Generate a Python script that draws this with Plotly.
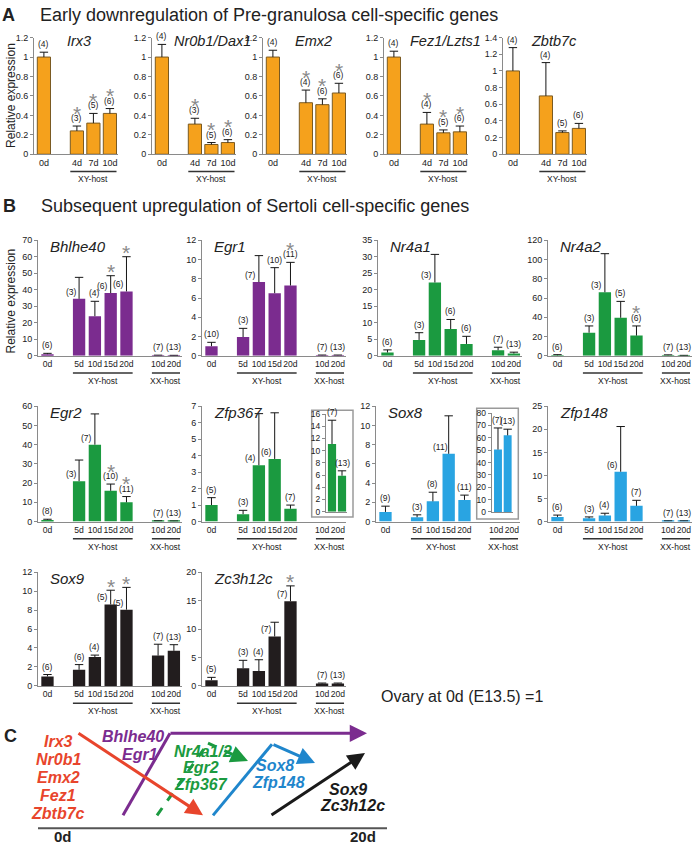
import plotly.graph_objects as go

W, H = 695, 849
FONT = "Liberation Sans, Arial, Helvetica, sans-serif"

# ---------------- data ----------------
a_days = ["0d", "4d", "7d", "10d"]
a_groups = [1, 3]
a_group_names = ["", "XY-host"]

irx3_mean = [1.00, 0.24, 0.32, 0.42]
irx3_sem = [0.05, 0.05, 0.10, 0.05]
irx3_n = [4, 3, 5, 6]
irx3_sig = [0, 1, 1, 1]

nr0b1_mean = [1.00, 0.31, 0.10, 0.12]
nr0b1_sem = [0.13, 0.06, 0.02, 0.03]
nr0b1_n = [4, 3, 5, 6]
nr0b1_sig = [0, 1, 1, 1]

emx2_mean = [1.00, 0.53, 0.51, 0.63]
emx2_sem = [0.07, 0.13, 0.06, 0.10]
emx2_n = [4, 4, 6, 6]
emx2_sig = [0, 1, 1, 1]

fez1_mean = [1.00, 0.31, 0.22, 0.23]
fez1_sem = [0.06, 0.12, 0.03, 0.06]
fez1_n = [4, 4, 5, 6]
fez1_sig = [0, 1, 1, 1]

zbtb7c_mean = [1.00, 0.70, 0.26, 0.31]
zbtb7c_sem = [0.28, 0.40, 0.02, 0.06]
zbtb7c_n = [4, 4, 5, 6]
zbtb7c_sig = [0, 0, 0, 0]

b_days = ["0d", "5d", "10d", "15d", "20d", "10d", "20d"]
b_groups = [1, 4, 2]
b_group_names = ["", "XY-host", "XX-host"]

bhlhe40_mean = [1.0, 34.5, 24.0, 38.0, 39.0, 0.3, 0.2]
bhlhe40_sem = [0.5, 13.0, 9.0, 10.5, 21.0, 0.1, 0.1]
bhlhe40_n = [6, 3, 4, 6, 6, 7, 13]
bhlhe40_sig = [0, 0, 0, 1, 1, 0, 0]

egr1_mean = [1.0, 1.95, 7.65, 6.5, 7.3, 0.05, 0.05]
egr1_sem = [0.4, 0.9, 2.75, 2.65, 2.4, 0.03, 0.03]
egr1_n = [10, 3, 7, 10, 11, 7, 13]
egr1_sig = [0, 0, 0, 0, 1, 0, 0]

nr4a1_mean = [1.0, 4.8, 22.2, 8.1, 3.6, 1.7, 0.7]
nr4a1_sem = [0.8, 2.2, 8.5, 2.9, 2.3, 0.9, 0.4]
nr4a1_n = [6, 3, 3, 6, 6, 7, 13]
nr4a1_sig = [0, 0, 0, 0, 0, 0, 0]

nr4a2_mean = [0.5, 24.0, 66.0, 39.5, 21.0, 0.5, 0.3]
nr4a2_sem = [0.7, 7.0, 40.0, 17.0, 10.0, 0.5, 0.2]
nr4a2_n = [6, 3, 3, 5, 6, 7, 13]
nr4a2_sig = [0, 0, 0, 0, 1, 0, 0]

egr2_mean = [0.8, 21.0, 40.0, 16.0, 10.0, 0.3, 0.2]
egr2_sem = [0.4, 11.0, 16.0, 3.5, 3.0, 0.1, 0.1]
egr2_n = [8, 3, 7, 10, 11, 7, 13]
egr2_sig = [0, 0, 0, 1, 1, 0, 0]

zfp367_mean = [1.0, 0.45, 3.42, 3.8, 0.78]
zfp367_sem = [0.45, 0.23, 3.13, 2.8, 0.22]
zfp367_n = [5, 3, 4, 6, 7]
zfp367_sig = [0, 0, 0, 0, 0]
zfp367_xx_mean = [11.1, 5.9]
zfp367_xx_sem = [3.9, 0.8]
zfp367_xx_n = [7, 13]

sox8_mean = [1.0, 0.45, 2.1, 7.05, 2.25]
sox8_sem = [0.6, 0.25, 0.95, 3.95, 0.5]
sox8_n = [9, 3, 8, 11, 11]
sox8_sig = [0, 0, 0, 0, 0]
sox8_xx_mean = [50.5, 62.0]
sox8_xx_sem = [17.5, 5.0]
sox8_xx_n = [7, 13]

zfp148_mean = [1.0, 0.7, 1.3, 10.8, 3.4, 0.1, 0.1]
zfp148_sem = [0.4, 0.3, 0.5, 9.8, 1.2, 0.05, 0.05]
zfp148_n = [6, 3, 4, 6, 7, 7, 13]
zfp148_sig = [0, 0, 0, 0, 0, 0, 0]

sox9_mean = [1.0, 1.7, 3.05, 8.6, 8.05, 3.2, 3.7]
sox9_sem = [0.2, 0.55, 0.2, 1.5, 2.35, 1.2, 0.65]
sox9_n = [6, 6, 4, 5, 5, 7, 13]
sox9_sig = [0, 0, 0, 1, 1, 0, 0]

zc3h12c_mean = [1.0, 3.1, 2.6, 8.7, 14.9, 0.4, 0.4]
zc3h12c_sem = [0.5, 1.4, 2.0, 2.5, 2.7, 0.1, 0.1]
zc3h12c_n = [5, 3, 4, 7, 7, 7, 13]
zc3h12c_sig = [0, 0, 0, 0, 1, 0, 0]

# ---------------- styles ----------------
ORANGE = "#F5A11C"
ORANGE_EDGE = "#7A5A22"
PURPLE = "#7B2C8F"
GREEN = "#1B9A40"
BLUE = "#29A4E2"
BLACK = "#221D1E"
AX = "#8a8a8a"
TXT = "#222222"
STAR = "#8a8a8a"
ERR = "#151515"

fig = go.Figure()
annotations = []
shapes = []
counter = [0]


def px(x):
    return x / W


def py(y):
    return 1 - y / H


def positions(groups):
    pos, p = [], 0
    for g in groups:
        for _ in range(g):
            pos.append(p)
            p += 1
        p += 1
    return pos


def new_axes(left, right, top, bottom, xrange, ymax, dtick, tickvals, ticktext,
             show_xlabels=True, yfs=9, xfs=9):
    counter[0] += 1
    k = counter[0]
    s = "" if k == 1 else str(k)
    fig.update_layout(**{
        "xaxis" + s: dict(domain=[px(left), px(right)], range=xrange, anchor="y" + s,
                          showline=True, linecolor=AX, linewidth=1, ticks="",
                          tickmode="array", tickvals=tickvals, ticktext=ticktext,
                          tickangle=0, showticklabels=show_xlabels,
                          tickfont=dict(size=xfs, color=TXT, family=FONT),
                          showgrid=False, zeroline=False, fixedrange=True),
        "yaxis" + s: dict(domain=[py(bottom), py(top)], range=[0, ymax], anchor="x" + s,
                          showline=True, linecolor=AX, linewidth=1, ticks="outside",
                          ticklen=3, tickcolor=AX, tick0=0, dtick=dtick,
                          tickfont=dict(size=yfs, color=TXT, family=FONT),
                          showgrid=False, zeroline=False, fixedrange=True),
    })
    return "x" + s, "y" + s


def draw_bars(xr, yr, pos, mean, sem, color, edge, ew, bw):
    fig.add_trace(go.Bar(
        x=pos, y=mean, width=bw,
        marker=dict(color=color, line=dict(color=edge, width=ew)),
        error_y=dict(type="data", array=sem, arrayminus=[0] * len(sem), symmetric=False,
                     width=0, thickness=1, color=ERR),
        xaxis=xr, yaxis=yr, showlegend=False, hoverinfo="skip"))
    tops = [m + s for m, s in zip(mean, sem)]
    fig.add_trace(go.Scatter(
        x=pos, y=tops, mode="markers",
        marker=dict(symbol="line-ew", size=6, color=ERR, line=dict(color=ERR, width=1)),
        xaxis=xr, yaxis=yr, showlegend=False, hoverinfo="skip"))


def draw_labels(xr, yr, pos, mean, sem, n, sig, side, fs=8.5):
    for i, (p, m, s, c) in enumerate(zip(pos, mean, sem, n)):
        g = sig[i] if sig else 0
        top = m + s
        if i in side:
            annotations.append(dict(x=p, y=m, xref=xr, yref=yr, text=f"({c})", showarrow=False,
                                    xanchor="center", yanchor="bottom", xshift=-8, yshift=0,
                                    font=dict(size=fs, color=TXT, family=FONT)))
            if g:
                annotations.append(dict(x=p, y=top, xref=xr, yref=yr, text="*", showarrow=False,
                                        xanchor="center", yanchor="middle", yshift=4,
                                        font=dict(size=21, color=STAR, family=FONT)))
        else:
            annotations.append(dict(x=p, y=top, xref=xr, yref=yr, text=f"({c})", showarrow=False,
                                    xanchor="center", yanchor="bottom", yshift=1,
                                    font=dict(size=fs, color=TXT, family=FONT)))
            if g:
                annotations.append(dict(x=p, y=top, xref=xr, yref=yr, text="*", showarrow=False,
                                        xanchor="center", yanchor="middle", yshift=13,
                                        font=dict(size=21, color=STAR, family=FONT)))


def draw_groups(xr, pos, groups, names, zero, bw):
    i = 0
    for g, name in zip(groups, names):
        sub = pos[i:i + g]
        i += g
        if not name:
            continue
        shapes.append(dict(type="line", xref=xr, yref="paper", x0=sub[0] - bw / 2, x1=sub[-1] + bw / 2,
                           y0=py(zero + 17.5), y1=py(zero + 17.5), line=dict(color="#333", width=1.5)))
        annotations.append(dict(x=(sub[0] + sub[-1]) / 2, y=py(zero + 25.5), xref=xr, yref="paper",
                                text=name, showarrow=False, xanchor="center", yanchor="middle",
                                font=dict(size=8.5, color=TXT, family=FONT)))


def gene_label(text, x, y, size):
    annotations.append(dict(x=px(x), y=py(y), xref="paper", yref="paper", text=f"<i>{text}</i>",
                            showarrow=False, xanchor="left", yanchor="middle",
                            font=dict(size=size, color=TXT, family=FONT)))


def paper_text(text, x, y, size, color=TXT, xanchor="left", angle=0):
    annotations.append(dict(x=px(x), y=py(y), xref="paper", yref="paper", text=text,
                            showarrow=False, xanchor=xanchor, yanchor="middle", textangle=angle,
                            font=dict(size=size, color=color, family=FONT)))


# ---------------- panel A ----------------
A_specs = [
    ("Irx3", irx3_mean, irx3_sem, irx3_n, irx3_sig, 1.2, 0.2, 34, 31),
    ("Nr0b1/Dax1", nr0b1_mean, nr0b1_sem, nr0b1_n, nr0b1_sig, 1.2, 0.2, 152, 20),
    ("Emx2", emx2_mean, emx2_sem, emx2_n, emx2_sig, 1.2, 0.2, 263, 30),
    ("Fez1/Lzts1", fez1_mean, fez1_sem, fez1_n, fez1_sig, 1.2, 0.2, 384, 24),
    ("Zbtb7c", zbtb7c_mean, zbtb7c_sem, zbtb7c_n, zbtb7c_sig, 1.4, 0.2, 503, 26),
]
A_TOP, A_ZERO = 33, 151
a_pos = positions(a_groups)
A_XR = [-0.6, 4.5]
A_UNIT = 16.5
for gene, mean, sem, n, sig, ymax, dt, left, gdx in A_specs:
    right = left + (A_XR[1] - A_XR[0]) * A_UNIT
    xr, yr = new_axes(left, right, A_TOP, A_ZERO, A_XR, ymax, dt, a_pos, a_days)
    draw_bars(xr, yr, a_pos, mean, sem, ORANGE, ORANGE_EDGE, 1, 0.8)
    draw_labels(xr, yr, a_pos, mean, sem, n, sig, [])
    draw_groups(xr, a_pos, a_groups, a_group_names, A_ZERO, 0.8)
    gene_label(gene, left + gdx, A_TOP + 3, 14.5)

paper_text("<b>A</b>", 0, 10, 18)
paper_text("Early downregulation of Pre-granulosa cell-specific genes", 38, 10, 18)
paper_text("Relative expression", 11, 92, 12, xanchor="center", angle=-90)

# ---------------- panel B ----------------
B_rows = [(238, 355), (406, 522.7), (574, 689)]
B_XR = [-0.6, 8.5]
B_UNIT = 15.8
B_BW = 0.78
b_pos = positions(b_groups)

B_specs = [
    ("Bhlhe40", bhlhe40_mean, bhlhe40_sem, bhlhe40_n, bhlhe40_sig, PURPLE, 70, 10, 38, 0, [1, 3, 4], None),
    ("Egr1", egr1_mean, egr1_sem, egr1_n, egr1_sig, PURPLE, 12, 2, 202, 0, [2], None),
    ("Nr4a1", nr4a1_mean, nr4a1_sem, nr4a1_n, nr4a1_sig, GREEN, 35, 5, 378, 0, [2], None),
    ("Nr4a2", nr4a2_mean, nr4a2_sem, nr4a2_n, nr4a2_sig, GREEN, 120, 20, 548, 0, [2], None),
    ("Egr2", egr2_mean, egr2_sem, egr2_n, egr2_sig, GREEN, 60, 10, 38, 1, [1, 2], None),
    ("Zfp367", zfp367_mean, zfp367_sem, zfp367_n, zfp367_sig, GREEN, 7, 1, 202, 1, [2, 3],
     dict(mean=zfp367_xx_mean, sem=zfp367_xx_sem, n=zfp367_xx_n, ymax=16, dtick=2,
          box=(311.7, 410, 353, 518), axes=(326, 347, 414, 512.7), xr=[-0.6, 1.5])),
    ("Sox8", sox8_mean, sox8_sem, sox8_n, sox8_sig, BLUE, 12, 2, 376, 1, [3],
     dict(mean=sox8_xx_mean, sem=sox8_xx_sem, n=sox8_xx_n, ymax=80, dtick=10,
          box=(476.7, 408, 518.3, 520), axes=(491.7, 512.5, 413, 513), xr=[-0.65, 1.5])),
    ("Zfp148", zfp148_mean, zfp148_sem, zfp148_n, zfp148_sig, BLUE, 25, 5, 548, 1, [3], None),
    ("Sox9", sox9_mean, sox9_sem, sox9_n, sox9_sig, BLACK, 12, 2, 38, 2, [3, 4], None),
    ("Zc3h12c", zc3h12c_mean, zc3h12c_sem, zc3h12c_n, zc3h12c_sig, BLACK, 20, 5, 202, 2, [3, 4], None),
]

for gene, mean, sem, n, sig, color, ymax, dt, left, row, side, inset in B_specs:
    top, zero = B_rows[row]
    right = left + (B_XR[1] - B_XR[0]) * B_UNIT
    xr, yr = new_axes(left, right, top, zero, B_XR, ymax, dt, b_pos, b_days, xfs=8.6)
    p = b_pos[:len(mean)]
    draw_bars(xr, yr, p, mean, sem, color, color, 0, B_BW)
    draw_labels(xr, yr, p, mean, sem, n, sig, side)
    draw_groups(xr, b_pos, b_groups, b_group_names, zero, B_BW)
    gene_label(gene, left + 10, top + 6, 15)
    if inset:
        bx0, by0, bx1, by1 = inset["box"]
        shapes.append(dict(type="rect", xref="paper", yref="paper", x0=px(bx0), x1=px(bx1),
                           y0=py(by1), y1=py(by0), line=dict(color="#9a9a9a", width=1.5),
                           fillcolor="white", layer="below"))
        al, ar, at, ab = inset["axes"]
        ip = positions([len(inset["mean"])])
        ixr, iyr = new_axes(al, ar, at, ab, inset["xr"], inset["ymax"], inset["dtick"],
                            ip, ["", ""], show_xlabels=False, yfs=8.5)
        draw_bars(ixr, iyr, ip, inset["mean"], inset["sem"], color, color, 0, 0.82)
        draw_labels(ixr, iyr, ip, inset["mean"], inset["sem"], inset["n"], None, [])

paper_text("<b>B</b>", 1, 203, 18)
paper_text("Subsequent upregulation of Sertoli cell-specific genes", 39, 203, 18)
paper_text("Relative expression", 11, 300, 12, xanchor="center", angle=-90)
paper_text("Ovary at 0d (E13.5) =1", 379, 700, 16)

# ---------------- panel C (schematic) ----------------
C_RED = "#E8452C"
C_PURPLE = "#7B2C8F"
C_GREEN = "#1B9A40"
C_BLUE = "#1F86CC"
C_BLACK = "#1a1a1a"

paper_text("<b>C</b>", 2, 740, 18)


def seg(x0, y0, x1, y1, color, dash="solid", width=3):
    shapes.append(dict(type="line", xref="paper", yref="paper", x0=px(x0), y0=py(y0),
                       x1=px(x1), y1=py(y1), line=dict(color=color, width=width, dash=dash)))


def arrow(x0, y0, x1, y1, color):
    annotations.append(dict(x=px(x1), y=py(y1), xref="paper", yref="paper", ax=x0 - x1, ay=y0 - y1,
                            axref="pixel", ayref="pixel", showarrow=True, arrowhead=2,
                            arrowsize=1.15, arrowwidth=3, arrowcolor=color, text=""))


seg(38, 833, 387, 833, "#555555", width=2)
arrow(77, 737, 203, 820, C_RED)
seg(123, 820, 170, 737, C_PURPLE)
arrow(169, 737, 367, 737, C_PURPLE)
seg(157, 820, 208, 747, C_GREEN, dash="dash")
seg(208, 747, 236, 760, C_GREEN, dash="dash")
arrow(234, 759, 248, 765, C_GREEN)
seg(213, 820, 272, 748, C_BLUE)
arrow(272, 748, 315, 767, C_BLUE)
arrow(270, 820, 365, 757, C_BLACK)

for i, t in enumerate(["Irx3", "Nr0b1", "Emx2", "Fez1", "Zbtb7c"]):
    paper_text(f"<b><i>{t}</i></b>", 58, 745 + i * 18.3, 16, C_RED, xanchor="center")
paper_text("<b><i>Bhlhe40</i></b>", 133, 740, 16, C_PURPLE, xanchor="center")
paper_text("<b><i>Egr1</i></b>", 140, 758, 16, C_PURPLE, xanchor="center")
paper_text("<b><i>Nr4a1/2</i></b>", 203, 755, 16, C_GREEN, xanchor="center")
paper_text("<b><i>Egr2</i></b>", 201, 772, 16, C_GREEN, xanchor="center")
paper_text("<b><i>Zfp367</i></b>", 201, 789, 16, C_GREEN, xanchor="center")
paper_text("<b><i>Sox8</i></b>", 275, 770, 16, C_BLUE, xanchor="center")
paper_text("<b><i>Zfp148</i></b>", 278, 787, 16, C_BLUE, xanchor="center")
paper_text("<b><i>Sox9</i></b>", 348, 794, 16, C_BLACK, xanchor="center")
paper_text("<b><i>Zc3h12c</i></b>", 352, 810, 16, C_BLACK, xanchor="center")
paper_text("<b>0d</b>", 63, 841, 15, xanchor="center")
paper_text("<b>20d</b>", 363, 841, 15, xanchor="center")

fig.update_layout(
    width=W, height=H, autosize=False,
    margin=dict(l=0, r=0, t=0, b=0),
    paper_bgcolor="white", plot_bgcolor="rgba(0,0,0,0)",
    font=dict(family=FONT, color=TXT),
    showlegend=False,
    annotations=annotations,
    shapes=shapes,
)

fig.write_html("out.html",
               config={"displayModeBar": False},
               post_script="document.body.style.margin='0px';document.body.style.overflow='hidden';")
